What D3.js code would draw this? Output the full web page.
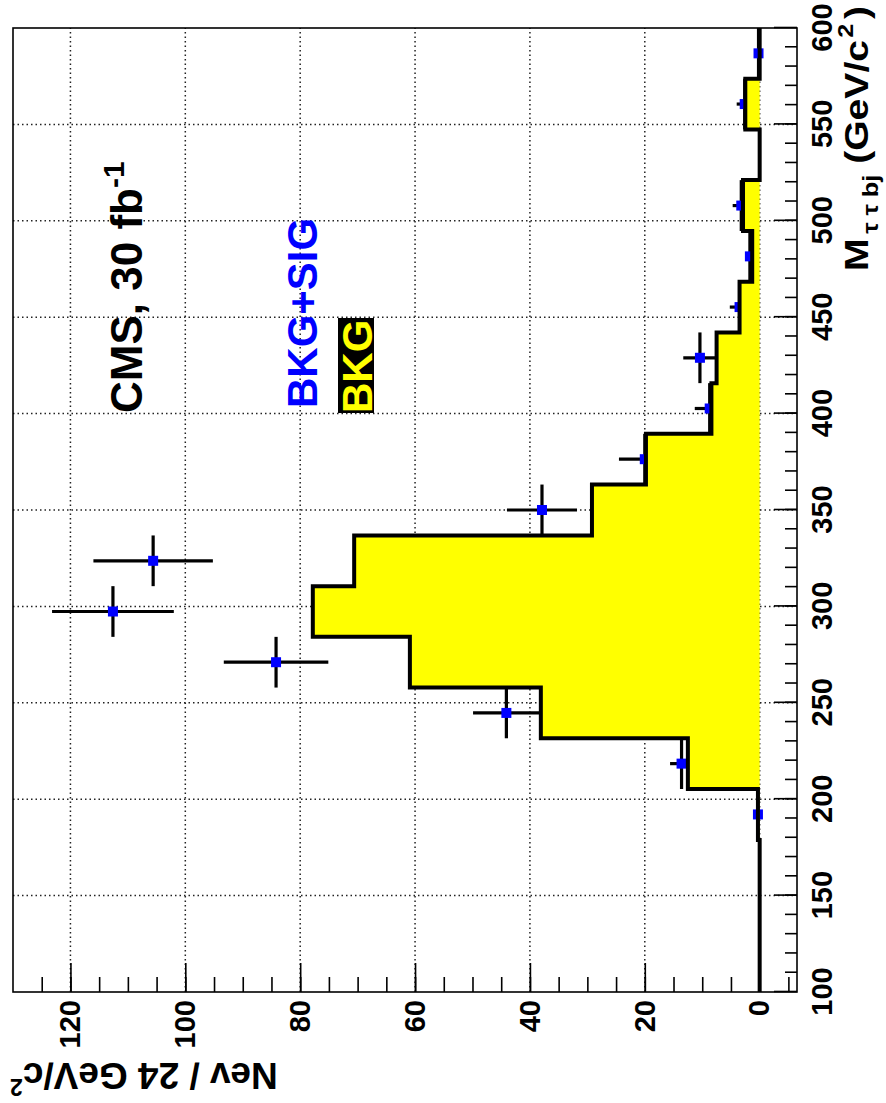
<!DOCTYPE html>
<meta charset="utf-8">
<head>
  <title>M tau tau bj</title>
</head>

<style>
body {
  margin: 0;
  background: #fff;
}
text {
  font-family: "Liberation Sans", Arial, Helvetica, sans-serif;
  font-weight: bold;
}
</style>

<body>
  <svg width="886" height="1103"></svg>

  <script src="https://cdnjs.cloudflare.com/ajax/libs/d3/7.8.5/d3.min.js"></script>

  <script>
// 19 bins between 100 and 600 GeV/c2
var binEdges = [100.0, 126.3, 152.6, 178.9, 205.3, 231.6, 257.9, 284.2, 310.5, 336.8,
                363.2, 389.5, 415.8, 442.1, 468.4, 494.7, 521.1, 547.4, 573.7, 600.0];

// BKG histogram (yellow)
var bkgValues = [0, 0, 0, 0.3, 12.5, 38.1, 60.9, 77.8, 70.6, 29.2,
                 19.8, 8.4, 7.5, 3.5, 1.3, 2.9, 0, 2.5, 0];

// BKG+SIG points (blue) and their errors
var sigValues = [null, null, null, 0.3, 13.6, 44.1, 84.2, 112.6, 105.6, 37.9,
                 20.0, 8.7, 10.4, 3.5, 1.7, 3.2, null, 2.6, 0.2];
var sigErrors = [null, null, null, 0.3, 2.0, 5.8, 9.1, 10.6, 10.4, 6.1,
                 4.5, 2.6, 2.9, 1.7, 0.8, 1.5, null, 1.4, 0.2];

var xTicks = [100, 150, 200, 250, 300, 350, 400, 450, 500, 550, 600];
var yTicks = [0, 20, 40, 60, 80, 100, 120];

var W = 964, H = 784;

var svg = d3.select('svg');
// the whole plot is turned a quarter turn anticlockwise
var g = svg.append('g').attr('transform', 'translate(13,992) rotate(-90)');

var x = d3.scaleLinear().domain([100, 600]).range([0, W]);
var y = d3.scaleLinear().domain([-6.5, 130]).range([H, 0]);

// grid
g.selectAll('.gridx')
  .data(xTicks.filter(function(d) { return d > 100 && d < 600; }))
  .enter().append('line')
  .attr('x1', function(d) { return x(d); })
  .attr('x2', function(d) { return x(d); })
  .attr('y1', 0).attr('y2', H)
  .attr('stroke', '#222').attr('stroke-width', 1.5)
  .attr('stroke-dasharray', '1.5,3');

g.selectAll('.gridy')
  .data(yTicks)
  .enter().append('line')
  .attr('x1', 0).attr('x2', W)
  .attr('y1', function(d) { return y(d); })
  .attr('y2', function(d) { return y(d); })
  .attr('stroke', '#222').attr('stroke-width', 1.5)
  .attr('stroke-dasharray', '1.5,3');

// data points
var points = sigValues.map(function(v, i) {
  return { lo: binEdges[i], hi: binEdges[i + 1], v: v, e: sigErrors[i] };
}).filter(function(d) { return d.v !== null; });

var pts = g.selectAll('.pt').data(points).enter().append('g');

pts.append('line')
  .attr('x1', function(d) { return x(d.lo); })
  .attr('x2', function(d) { return x(d.hi); })
  .attr('y1', function(d) { return y(d.v); })
  .attr('y2', function(d) { return y(d.v); })
  .attr('stroke', '#000').attr('stroke-width', 3.2);

pts.append('line')
  .attr('x1', function(d) { return x((d.lo + d.hi) / 2); })
  .attr('x2', function(d) { return x((d.lo + d.hi) / 2); })
  .attr('y1', function(d) { return y(d.v - d.e); })
  .attr('y2', function(d) { return y(d.v + d.e); })
  .attr('stroke', '#000').attr('stroke-width', 3.2);

pts.append('rect')
  .attr('x', function(d) { return x((d.lo + d.hi) / 2) - 5; })
  .attr('y', function(d) { return y(d.v) - 5; })
  .attr('width', 10).attr('height', 10)
  .attr('fill', '#0000ff');

// background histogram
var histData = bkgValues.map(function(v, i) { return [binEdges[i], v]; });
histData.push([600, bkgValues[bkgValues.length - 1]]);

var area = d3.area()
  .curve(d3.curveStepAfter)
  .x(function(d) { return x(d[0]); })
  .y0(y(0))
  .y1(function(d) { return y(d[1]); });

var line = d3.line()
  .curve(d3.curveStepAfter)
  .x(function(d) { return x(d[0]); })
  .y(function(d) { return y(d[1]); });

g.append('path').datum(histData)
  .attr('d', area)
  .attr('fill', '#ffff00');

g.append('path').datum(histData)
  .attr('d', line)
  .attr('fill', 'none')
  .attr('stroke', '#000')
  .attr('stroke-width', 4)
  .attr('stroke-linejoin', 'miter');

// axes
var xMinor = g.append('g').attr('transform', 'translate(0,' + H + ')')
  .call(d3.axisBottom(x).tickValues(d3.range(110, 600, 10)).tickSize(-12).tickFormat(''));
var xMajor = g.append('g').attr('transform', 'translate(0,' + H + ')')
  .call(d3.axisBottom(x).tickValues(xTicks).tickSize(-23).tickPadding(14));

var yMinor = g.append('g')
  .call(d3.axisLeft(y).tickValues(d3.range(-5, 130, 5)).tickSize(-15).tickFormat(''));
var yMajor = g.append('g')
  .call(d3.axisLeft(y).tickValues(yTicks).tickSize(-29).tickPadding(8));

[xMinor, xMajor, yMinor, yMajor].forEach(function(a) {
  a.select('.domain').remove();
  a.selectAll('line').attr('stroke', '#000').attr('stroke-width', 1.6);
});
xMajor.selectAll('text').attr('font-size', 29).attr('fill', '#000');
yMajor.selectAll('text').attr('font-size', 29).attr('fill', '#000');

// frame
g.append('rect')
  .attr('x', 0).attr('y', 0).attr('width', W).attr('height', H)
  .attr('fill', 'none').attr('stroke', '#000').attr('stroke-width', 1.6);

// axis titles
var xt = g.append('text')
  .attr('transform', 'translate(' + (W + 22) + ',' + (H + 71) + ') scale(1.15,1)')
  .attr('text-anchor', 'end')
  .attr('font-size', 34).attr('fill', '#000');
xt.append('tspan').text('M');
xt.append('tspan').attr('font-size', 22).attr('dx', 4).attr('dy', 10).text('\u03c4 \u03c4 bj');
xt.append('tspan').attr('dy', -10).text(' (GeV/c');
xt.append('tspan').attr('font-size', 22).attr('dx', 2).attr('dy', -15).text('2');
xt.append('tspan').attr('dx', 4).attr('dy', 15).text(')');

var yt = g.append('text')
  .attr('transform', 'translate(-71,-3) rotate(-90)')
  .attr('text-anchor', 'end')
  .attr('font-size', 37).attr('fill', '#000');
yt.append('tspan').text('Nev / 24 GeV/c');
yt.append('tspan').attr('font-size', 23).attr('dy', -16).text('2');

// labels inside the plot
var cms = g.append('text')
  .attr('x', 579).attr('y', 129)
  .attr('font-size', 44).attr('fill', '#000');
cms.append('tspan').text('CMS, 30 fb');
cms.append('tspan').attr('font-size', 30).attr('dy', -18).text('-1');

g.append('text')
  .attr('x', 584).attr('y', 304)
  .attr('font-size', 42).attr('fill', '#0000ff')
  .text('BKG+SIG');

g.append('rect')
  .attr('x', 579).attr('y', 325).attr('width', 95).attr('height', 36)
  .attr('fill', '#000');
g.append('text')
  .attr('x', 579).attr('y', 359)
  .attr('font-size', 42).attr('fill', '#ffff00')
  .text('BKG');
  </script>
</body>
</html>
